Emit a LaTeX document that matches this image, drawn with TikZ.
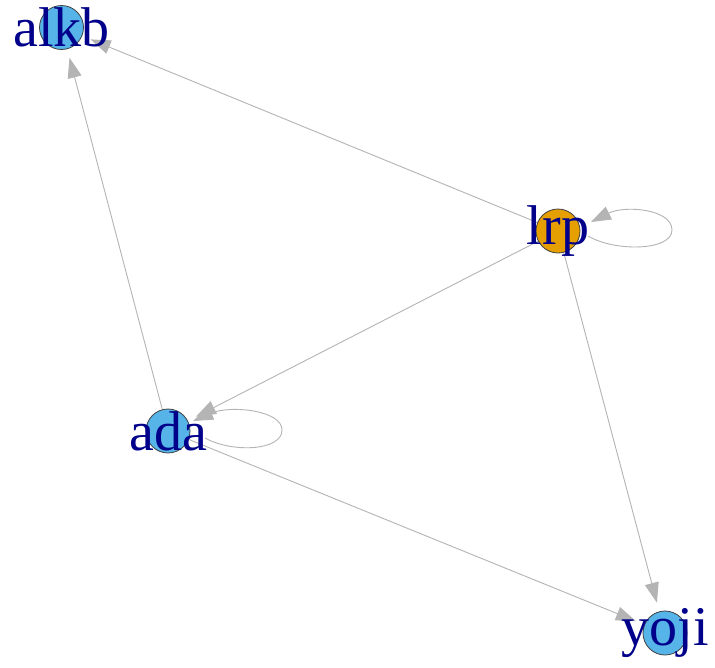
\documentclass[tikz,border=0pt]{standalone}
\usepackage{fontspec}
\setmainfont{Liberation Serif}
\usetikzlibrary{arrows.meta,backgrounds}
\definecolor{vblue}{HTML}{56B4E9}
\definecolor{vorange}{HTML}{E69F00}
\definecolor{egray}{HTML}{B4B4B4}
\definecolor{lblue}{RGB}{0,0,139}
\begin{document}
\begin{tikzpicture}[x=1pt,y=1pt,
  vtx/.style={circle, draw=black!75, line width=0.8pt, minimum size=44pt, inner sep=0pt},
  lbl/.style={text=lblue, font=\fontsize{56}{56}\selectfont, inner sep=0pt},
  edge/.style={draw=egray, line width=0.9pt, -{Triangle[length=20pt,width=14pt]}, shorten >=9pt},
  loopedge/.style={draw=egray, line width=0.9pt, -{Triangle[length=20pt,width=14pt]}}]
\useasboundingbox (0,0) rectangle (715,-667);
% vertices
\node[vtx, fill=vblue]   (alkb) at (61.5,-27.5) {};
\node[vtx, fill=vorange] (lrp)  at (558,-231) {};
\node[vtx, fill=vblue]   (ada)  at (168,-431) {};
\node[vtx, fill=vblue]   (yoji) at (665,-633) {};
% labels
\node[lbl] (alkbl) at (alkb) {alkb};
\node[lbl] (lrpl)  at (lrp)  {lrp};
\node[lbl] (adal)  at (ada)  {ada};
\node[lbl] (yojil) at (yoji) {yoji};
% loop anchor points
\coordinate (lrpS) at (588,-236);
\coordinate (lrpR) at (672,-230);
\coordinate (lrpT) at (591,-222);
\coordinate (adaS) at (205,-438);
\coordinate (adaR) at (282,-430);
\coordinate (adaT) at (193,-421);
\begin{scope}[on background layer]
\fill[white] (0,0) rectangle (715,-667);
\draw[edge] (lrp) -- (alkb);
\draw[edge] (ada) -- (alkb);
\draw[edge] (lrp) -- (ada);
\draw[edge] (lrp) -- (yoji);
\draw[edge] (ada) -- (yoji);
\draw[loopedge] (lrpS) .. controls (615,-252) and (672,-251) .. (lrpR)
                       .. controls (672,-209) and (625,-205) .. (lrpT);
\draw[loopedge] (adaS) .. controls (232,-453) and (282,-451) .. (adaR)
                       .. controls (282,-410) and (230,-405) .. (adaT);
\end{scope}
\end{tikzpicture}
\end{document}
